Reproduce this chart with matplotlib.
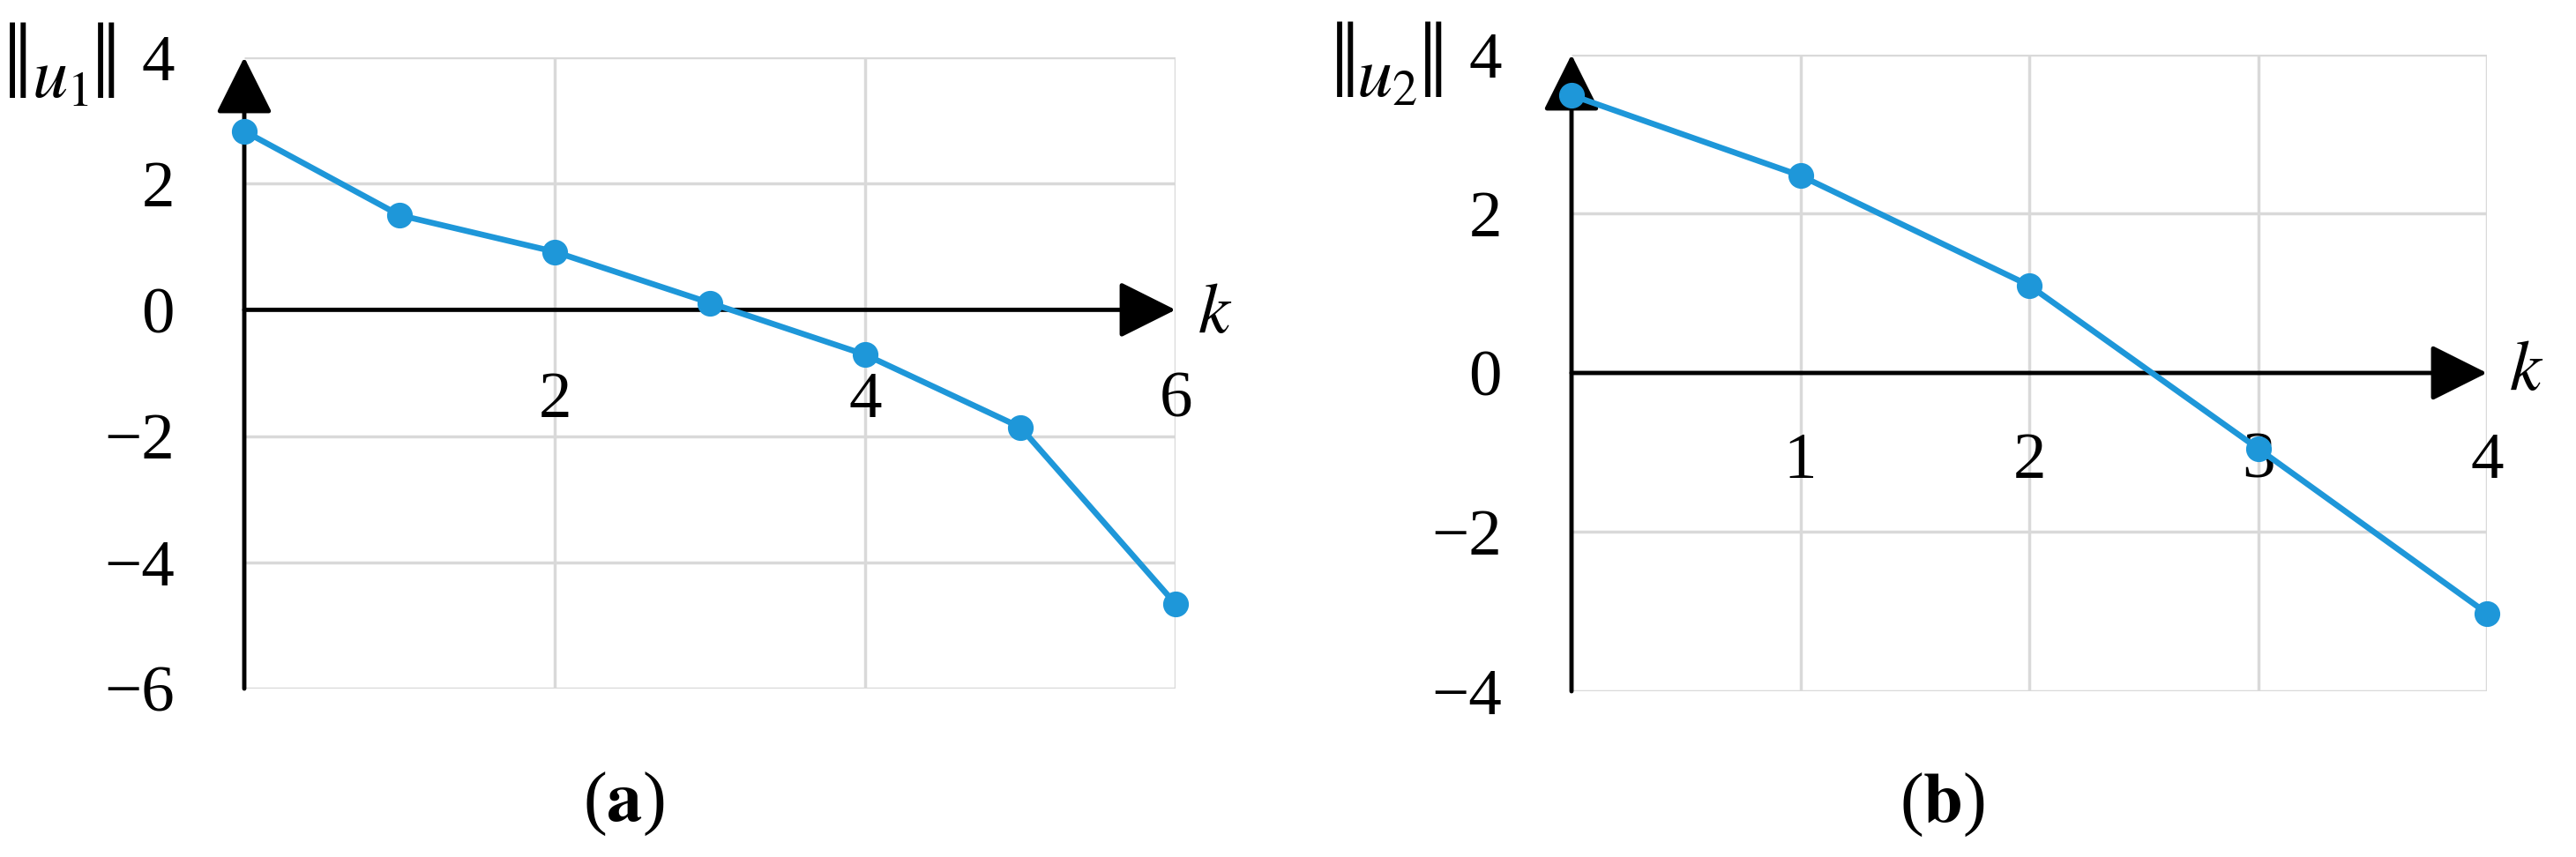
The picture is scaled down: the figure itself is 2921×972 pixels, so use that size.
import matplotlib
matplotlib.use("Agg")
import matplotlib.pyplot as plt

plt.rcParams['mathtext.fontset'] = 'stix'
plt.rcParams['font.family'] = ['Liberation Serif', 'DejaVu Serif']

# ---- data ----
k_a = [0, 1, 2, 3, 4, 5, 6]
u1 = [2.83, 1.50, 0.92, 0.11, -0.71, -1.86, -4.66]
yticks_a = [-6, -4, -2, 0, 2, 4]
xlabels_a = [2, 4, 6]
xgrid_a = [2, 4, 6]

k_b = [0, 1, 2, 3, 4]
u2 = [3.49, 2.48, 1.10, -0.95, -3.02]
yticks_b = [-4, -2, 0, 2, 4]
xlabels_b = [1, 2, 3, 4]
xgrid_b = [1, 2, 3, 4]

BLUE = '#1e97d9'
GRID = '#d9d9d9'
FS = 54

W, H = 2921, 972
fig = plt.figure(figsize=(W / 100, H / 100), dpi=100)
fig.patch.set_facecolor('white')


def px_axes(x0, x1, ytop, ybot):
    return fig.add_axes([x0 / W, (H - ybot) / H, (x1 - x0) / W, (ybot - ytop) / H])


def ftext(x, y, s, **kw):
    return fig.text(x / W, 1 - y / H, s, **kw)


def panel(ax, k, u, yticks, xlabels, xgrid, xmax, ymin, ymax, xlab_y, var, ylab_x0, ylab_y, k_xy):
    ax.set_xlim(0, xmax)
    ax.set_ylim(ymin, ymax)
    ax.patch.set_alpha(0)
    for s in ax.spines.values():
        s.set_visible(False)
    ax.set_xticks([])
    ax.set_yticks(yticks)
    ax.set_yticklabels([str(t).replace('-', '\u2212') for t in yticks], fontsize=FS)
    ax.tick_params(axis='y', length=0, pad=57)
    # grid
    for yv in yticks:
        if yv != 0:
            ax.plot([0, xmax], [yv, yv], color=GRID, lw=2.5, zorder=1, solid_capstyle='butt')
    for xv in xgrid:
        ax.plot([xv, xv], [ymin, ymax], color=GRID, lw=2.5, zorder=1, solid_capstyle='butt')
    # axes with arrows
    hl = 1.0
    ax.annotate('', xy=(0, ymax), xytext=(0, ymin),
                arrowprops=dict(arrowstyle=f'-|>,head_length={hl},head_width=0.5',
                                mutation_scale=40, lw=3.5, color='black',
                                shrinkA=0, shrinkB=0), zorder=3)
    ax.annotate('', xy=(xmax, 0), xytext=(0, 0),
                arrowprops=dict(arrowstyle=f'-|>,head_length={hl},head_width=0.5',
                                mutation_scale=40, lw=3.5, color='black',
                                shrinkA=0, shrinkB=0), zorder=3)
    # data
    ax.plot(k, u, color=BLUE, lw=4.8, marker='o', ms=20, zorder=5, clip_on=False)
    # x tick labels
    for xv in xlabels:
        ax.text(xv, xlab_y, str(xv), fontsize=FS, ha='center', va='center', zorder=4)
    # y label: norm bars + variable
    ftext(ylab_x0 + 8, ylab_y, '\u2016', fontsize=88, ha='center', va='center')
    ftext(ylab_x0 + 56, ylab_y + 10, var, fontsize=FS + 4, ha='center', va='center')
    ftext(ylab_x0 + 108, ylab_y, '\u2016', fontsize=88, ha='center', va='center')
    ftext(k_xy[0], k_xy[1], r'$k$', fontsize=FS + 4, ha='center', va='center')


ax_a = px_axes(277, 1333, 65, 781)
panel(ax_a, k_a, u1, yticks_a, xlabels_a, xgrid_a, 6, -6, 4, -1.45,
      r'$u_1$', 12, 81, (1378, 358))

ax_b = px_axes(1782, 2820, 62, 784)
panel(ax_b, k_b, u2, yticks_b, xlabels_b, xgrid_b, 4, -4, 4, -1.12,
      r'$u_2$', 1517, 80, (2865, 422))

ftext(707, 912, r'($\mathbf{a}$)', fontsize=FS + 4, ha='center', va='center')
ftext(2202, 913, r'($\mathbf{b}$)', fontsize=FS + 4, ha='center', va='center')

fig.savefig('out.png', dpi=100, facecolor='white')
